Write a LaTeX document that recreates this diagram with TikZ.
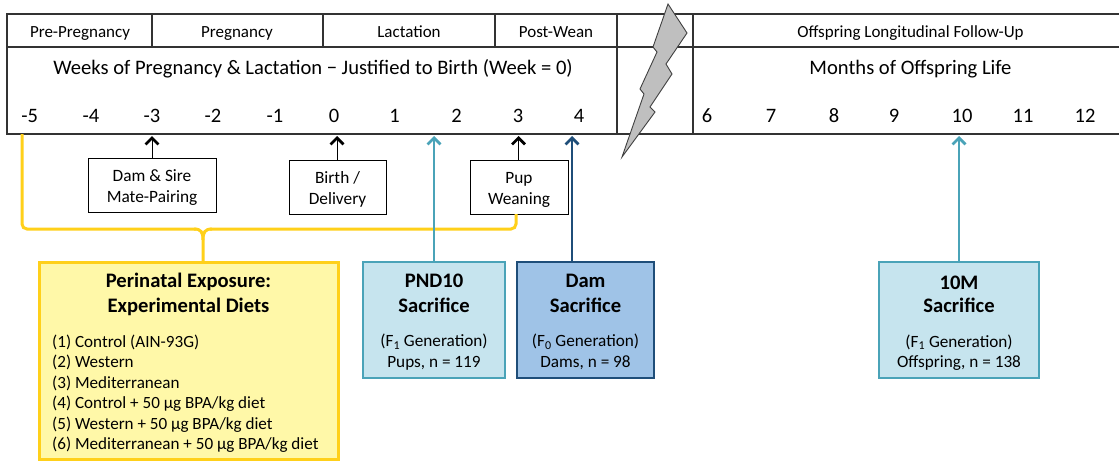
\documentclass[tikz,border=0pt]{standalone}
\usepackage{fontspec}
\setmainfont{Carlito}
\usetikzlibrary{arrows.meta}
\definecolor{yel}{HTML}{FFD01A}
\definecolor{yelfill}{HTML}{FFF8A8}
\definecolor{tealc}{HTML}{4AA3B8}
\definecolor{tealfill}{HTML}{C6E4EE}
\definecolor{navyc}{HTML}{1F4E79}
\definecolor{navyfill}{HTML}{9FC3E7}
\definecolor{tblc}{HTML}{333333}
\begin{document}
\begin{tikzpicture}[x=1pt,y=-1pt,
  tbl/.style={draw=tblc,line width=1.4pt},
  hdr/.style={anchor=base,inner sep=0pt,font=\fontsize{17}{19}\selectfont},
  big/.style={anchor=base,inner sep=0pt,font=\fontsize{20.6}{23}\selectfont},
  num/.style={anchor=base,inner sep=0pt,font=\fontsize{20.5}{23}\selectfont},
  evbox/.style={draw=black,line width=0.9pt,fill=white,inner sep=0pt},
  evtxt/.style={anchor=base,inner sep=0pt,font=\fontsize{17.3}{19}\selectfont},
  ttl/.style={anchor=base,inner sep=0pt,font=\fontsize{20.6}{23}\selectfont\bfseries},
  sub/.style={anchor=base,inner sep=0pt,font=\fontsize{17.2}{19}\selectfont},
  lst/.style={anchor=base west,inner sep=0pt,font=\fontsize{17.1}{19}\selectfont},
  sacbox/.style={line width=2.8pt,inner sep=0pt},
  barb/.style={-{Straight Barb[length=6.5pt,width=13pt,line width=2.8pt]}},
  blkarrow/.style={barb,draw=black,line width=1pt},
  tealarrow/.style={barb,draw=tealc,line width=1.3pt},
  navyarrow/.style={barb,draw=navyc,line width=1.1pt},
  brace/.style={draw=yel,line width=3pt,rounded corners=5pt}
]
\useasboundingbox (0,0) rectangle (1119,461);

% ---------- table ----------
\draw[tbl] (7,14) rectangle (617,134);
\draw[tbl] (7,47) -- (617,47);
\draw[tbl] (152,14) -- (152,47) (323,14) -- (323,47) (495,14) -- (495,47);
\draw[tbl] (617,14) -- (1121,14) (617,47) -- (1121,47) (617,134) -- (1121,134);
\draw[tbl] (693,14) -- (693,134);

% lightning bolt
\filldraw[fill=black!25,draw=black!75,line width=0.9pt,line join=miter]
  (668,4) -- (687,33) -- (666,64) -- (672,74) -- (650,107) -- (655,112)
  -- (622,157) -- (644,94) -- (640,89) -- (657,52) -- (653,47) -- cycle;

% header labels
\node[hdr] (hpre) at (80,37) {Pre-Pregnancy};
\node[hdr] (hpreg) at (237,37) {Pregnancy};
\node[hdr] (hlac) at (409,37) {Lactation};
\node[hdr] (hpost) at (556,37) {Post-Wean};
\node[hdr] (hoff) at (910.5,37) {Offspring Longitudinal Follow-Up};

\node[big] (weeks) at (313,74) {Weeks of Pregnancy \& Lactation − Justified to Birth (Week = 0)};
\node[big] (months) at (910.5,74) {Months of Offspring Life};

% tick numbers
\foreach \v/\x in {-5/29.6,-4/91,-3/152,-2/213,-1/275,0/334,1/394.5,2/456.5,3/518,4/579}
  \node[num] (w\v) at (\x,122) {\v};
\foreach \v/\x in {6/707,7/771,8/834,9/894,10/962,11/1023,12/1085}
  \node[num] (m\v) at (\x,122) {\v};

% axis coordinates on the bottom line
\coordinate (amate) at (152,136);
\coordinate (abirth) at (337,136);
\coordinate (awean) at (518.5,136);
\coordinate (apnd) at (434,136);
\coordinate (adam) at (572,136);
\coordinate (a10m) at (959,136);

% event boxes
\draw[evbox] (88,158) rectangle (216,212);
\node[evtxt] (mate1) at (152,181.5) {Dam \& Sire};
\node[evtxt] (mate2) at (152,202.5) {Mate-Pairing};
\coordinate (mate) at (152,158);
\draw[evbox] (289,160) rectangle (386,214);
\node[evtxt] (birth1) at (337.5,183) {Birth /};
\node[evtxt] (birth2) at (337.5,204) {Delivery};
\coordinate (birth) at (337,160);
\draw[evbox] (470,160) rectangle (568,214);
\node[evtxt] (wean1) at (519,183) {Pup};
\node[evtxt] (wean2) at (519,204) {Weaning};
\coordinate (wean) at (518.5,160);

\draw[blkarrow] (mate) -- (amate);
\draw[blkarrow] (birth) -- (abirth);
\draw[blkarrow] (wean) -- (awean);

% yellow brace
\coordinate (bl) at (22,134);
\coordinate (br) at (516,214);
\coordinate (bm) at (203,263);
\draw[brace] (bl) -- (22,229) -- (196,229);
\draw[brace] (br) -- (516,229) -- (210,229);
\draw[draw=yel,line width=3pt] (194,229) .. controls (201,229) and (203,232) .. (203,240) -- (bm);
\draw[draw=yel,line width=3pt] (212,229) .. controls (205,229) and (203,232) .. (203,240);

% perinatal box
\draw[draw=yel,fill=yelfill,line width=3pt] (39,262) rectangle (338,459);
\node[ttl] (peri1) at (188.5,287.7) {Perinatal Exposure:};
\node[ttl] (peri2) at (188.5,312.7) {Experimental Diets};
\node[lst] (d1) at (52,347.3) {(1) Control (AIN-93G)};
\node[lst] (d2) at (52,367.8) {(2) Western};
\node[lst] (d3) at (52,388.2) {(3) Mediterranean};
\node[lst] (d4) at (52,408.6) {(4) Control + 50 µg BPA/kg diet};
\node[lst] (d5) at (52,429) {(5) Western + 50 µg BPA/kg diet};
\node[lst] (d6) at (52,449.3) {(6) Mediterranean + 50 µg BPA/kg diet};

% PND10 box
\draw[sacbox,draw=tealc,fill=tealfill] (363,262) rectangle (505,378);
\coordinate (pnd) at (434,262);
\node[ttl] (pnd1) at (434,287.7) {PND10};
\node[ttl] (pnd2) at (434,312.7) {Sacrifice};
\node[sub] (pnd3) at (434,346.7) {(F\textsubscript{1} Generation)};
\node[sub] (pnd4) at (434,367.3) {Pups, n = 119};

% Dam box
\draw[sacbox,draw=navyc,fill=navyfill] (517,262) rectangle (654,378);
\coordinate (dam) at (572,262);
\node[ttl] (dam1) at (585.5,287.7) {Dam};
\node[ttl] (dam2) at (585.5,312.7) {Sacrifice};
\node[sub] (dam3) at (585.5,346.7) {(F\textsubscript{0} Generation)};
\node[sub] (dam4) at (585.5,367.3) {Dams, n = 98};

% 10M box
\draw[sacbox,draw=tealc,fill=tealfill] (879,262) rectangle (1039,378);
\coordinate (tenm) at (959,262);
\node[ttl] (ten1) at (959,289.3) {10M};
\node[ttl] (ten2) at (959,312.7) {Sacrifice};
\node[sub] (ten3) at (959,347.3) {(F\textsubscript{1} Generation)};
\node[sub] (ten4) at (959,367.3) {Offspring, n = 138};

\draw[tealarrow] (pnd) -- (apnd);
\draw[navyarrow] (dam) -- (adam);
\draw[tealarrow] (tenm) -- (a10m);
\end{tikzpicture}
\end{document}
